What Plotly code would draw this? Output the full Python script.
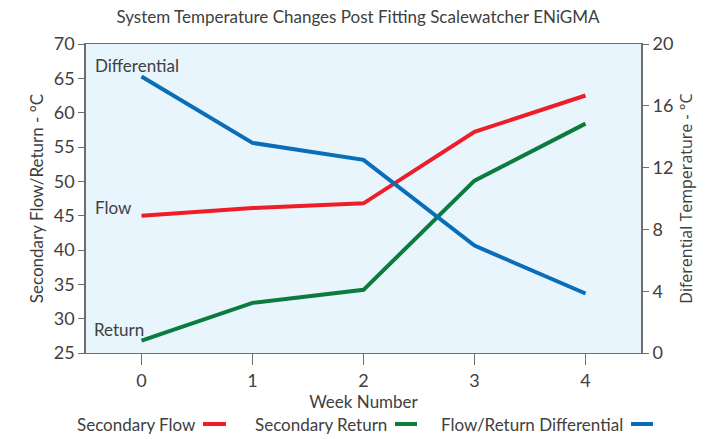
import plotly.graph_objects as go

weeks = [0, 1, 2, 3, 4]
secondary_flow = [45.0, 46.1, 46.8, 57.2, 62.5]
secondary_return = [26.8, 32.3, 34.2, 50.1, 58.4]
differential = [17.9, 13.6, 12.5, 6.95, 3.85]

left_ticks = [25, 30, 35, 40, 45, 50, 55, 60, 65, 70]
right_ticks = [0, 4, 8, 12, 16, 20]

RED = "#EE1D27"
GREEN = "#0B7B3E"
BLUE = "#0A6DB8"
TXT = "#404040"
AX = "#6e6e6e"
FONT = "Lato, Arial, sans-serif"

W, H = 716, 439
L, R, T, B = 86, 641, 44, 353

fig = go.Figure()
fig.add_trace(go.Scatter(x=weeks, y=secondary_flow, mode="lines", name="Secondary Flow",
                         line=dict(color=RED, width=4)))
fig.add_trace(go.Scatter(x=weeks, y=secondary_return, mode="lines", name="Secondary Return",
                         line=dict(color=GREEN, width=4)))
fig.add_trace(go.Scatter(x=weeks, y=differential, mode="lines", name="Flow/Return Differential",
                         line=dict(color=BLUE, width=4), yaxis="y2"))

def px(xp):
    return (xp - L) / (R - L)

def py(yp):
    return (B - yp) / (B - T)

annotations = [
    dict(text="Differential", x=-0.44, y=66.9, xref="x", yref="y", xanchor="left",
         showarrow=False, font=dict(size=17, color=TXT, family=FONT)),
    dict(text="Flow", x=-0.44, y=46.2, xref="x", yref="y", xanchor="left",
         showarrow=False, font=dict(size=17, color=TXT, family=FONT)),
    dict(text="Return", x=-0.45, y=28.4, xref="x", yref="y", xanchor="left",
         showarrow=False, font=dict(size=17, color=TXT, family=FONT)),
]

legend_items = [("Secondary Flow", RED, 198, 203, 226),
                ("Secondary Return", GREEN, 389, 395, 417),
                ("Flow/Return Differential", BLUE, 625, 631, 653)]
shapes = []
for label, col, tx, s0, s1 in legend_items:
    annotations.append(dict(text=label, x=px(tx), y=py(424), xref="paper", yref="paper",
                            xanchor="right", yanchor="middle", showarrow=False,
                            font=dict(size=17, color=TXT, family=FONT)))
    shapes.append(dict(type="line", xref="paper", yref="paper", x0=px(s0), x1=px(s1),
                       y0=py(424), y1=py(424), line=dict(color=col, width=4)))

fig.update_layout(
    width=W, height=H,
    margin=dict(l=L, r=W - R, t=T, b=H - B, pad=0),
    paper_bgcolor="white",
    plot_bgcolor="#E8F5FD",
    showlegend=False,
    title=dict(text="System Temperature Changes Post Fitting Scalewatcher ENiGMA",
               x=0.5, xanchor="center", y=1 - 17 / H, yanchor="middle",
               font=dict(size=17, color=TXT, family=FONT)),
    xaxis=dict(range=[-0.5, 4.5], tickvals=weeks, ticks="outside", ticklen=11, tickcolor=AX,
               showline=True, linecolor=AX, linewidth=1, mirror=True, showgrid=False,
               zeroline=False, tickfont=dict(size=18, color=TXT, family=FONT),
               title=dict(text="Week Number", font=dict(size=17, color=TXT, family=FONT), standoff=2)),
    yaxis=dict(range=[25, 70], tickvals=left_ticks, ticks="outside", ticklen=6, tickcolor=AX,
               showline=True, linecolor=AX, linewidth=1.5, mirror=False, showgrid=False,
               zeroline=False, tickfont=dict(size=18, color=TXT, family=FONT),
               title=dict(text="Secondary Flow/Return - °C", font=dict(size=17, color=TXT, family=FONT), standoff=6)),
    yaxis2=dict(range=[0, 20], tickvals=right_ticks, ticks="outside", ticklen=6, tickcolor=AX,
                overlaying="y", side="right", showline=True, linecolor=AX, linewidth=2,
                showgrid=False, zeroline=False,
                tickfont=dict(size=18, color=TXT, family=FONT),
                title=dict(text="Diferential Temperature - °C",
                           font=dict(size=16, color=TXT, family="Open Sans, sans-serif"), standoff=8)),
    annotations=annotations,
    shapes=shapes,
)

fig.write_html("out.html", config={"displayModeBar": False},
               post_script="document.body.style.margin='0';")
